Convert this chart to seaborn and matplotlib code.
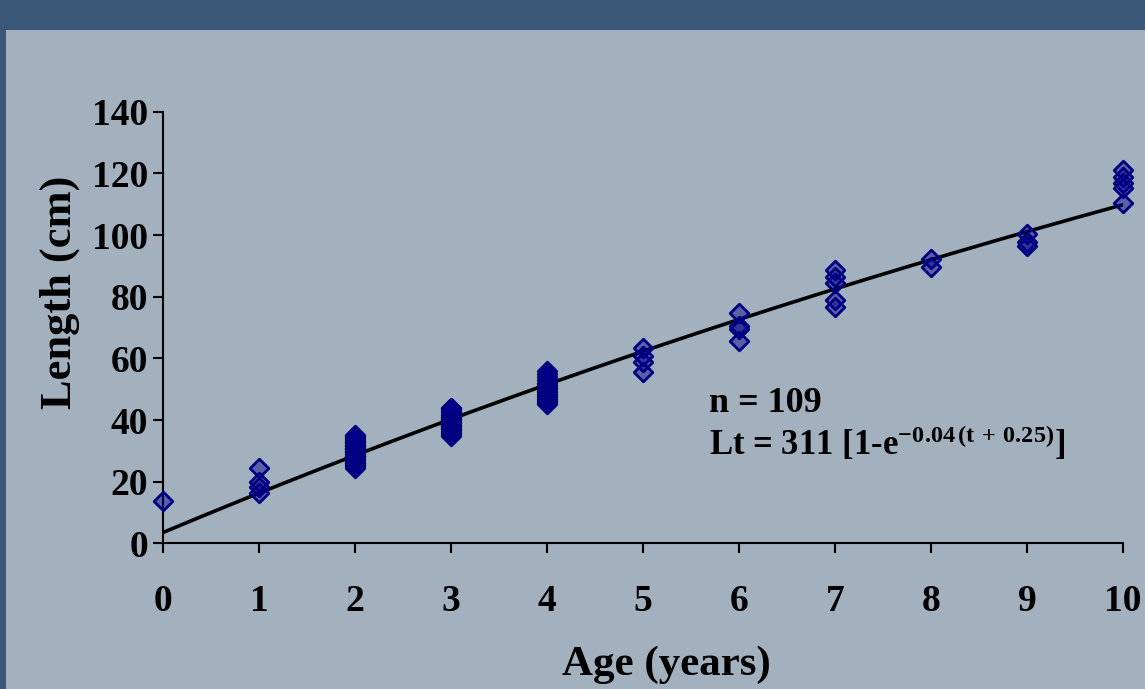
# Length-at-age scatter with von Bertalanffy growth curve
import matplotlib
matplotlib.use('Agg')
import matplotlib.pyplot as plt
from matplotlib.patches import Rectangle
import numpy as np
import pandas as pd
import seaborn as sns

len_age0 = [13.9]
len_age1 = [24.5, 20.0, 18.3, 16.5]
len_age2 = [24.5, 25, 25.5, 26, 26, 26.5, 27, 27, 27.5, 28, 28, 28.5, 28.5, 29, 29,
            29.5, 29.5, 30, 30, 30.5, 30.5, 31, 31, 31.5, 31.5, 32, 32, 32.5, 33, 33,
            33.5, 34, 34.5, 35, 35.2]
len_age3 = [35, 35.5, 36, 36.5, 37, 37, 37.5, 38, 38, 38.5, 38.5, 39, 39, 39.5, 39.5,
            40, 40, 40.5, 40.5, 41, 41, 41.5, 42, 42.5, 43, 43.5, 43.9, 44]
len_age4 = [45.2, 46, 46.5, 47, 47.5, 48, 48.5, 49, 49.5, 50, 50.5, 51, 51.5, 52, 53,
            54, 55, 56]
len_age5 = [63.4, 60.8, 58.9, 55.6]
len_age6 = [74.7, 70.5, 69.5, 65.5]
len_age7 = [88.7, 86.4, 84.5, 79.0, 76.7]
len_age8 = [92.2, 89.6]
len_age9 = [100.2, 97.9, 96.6]
len_age10 = [121.2, 118.9, 117.0, 115.3, 110.4]

age_lists = [len_age0, len_age1, len_age2, len_age3, len_age4, len_age5,
             len_age6, len_age7, len_age8, len_age9, len_age10]

# Growth curve parameters (curve as drawn on the chart)
L_inf = 311
K = 0.0424
t0 = 0.275

x_ticks = list(range(0, 11))
y_ticks = list(range(0, 141, 20))

data = pd.DataFrame({
    'age': [a for a, vals in enumerate(age_lists) for _ in vals],
    'length': [v for vals in age_lists for v in vals],
})

sns.set_style('ticks')
plt.rcParams['font.family'] = ['Liberation Serif', 'DejaVu Serif']
plt.rcParams['font.weight'] = 'bold'
plt.rcParams['text.color'] = 'black'
plt.rcParams['axes.labelcolor'] = 'black'
plt.rcParams['xtick.color'] = 'black'
plt.rcParams['ytick.color'] = 'black'
plt.rcParams['mathtext.fontset'] = 'custom'
plt.rcParams['mathtext.rm'] = 'Liberation Serif:bold'
plt.rcParams['mathtext.bf'] = 'Liberation Serif:bold'
plt.rcParams['mathtext.it'] = 'Liberation Serif:bold'

fig = plt.figure(figsize=(11.45, 6.89), dpi=100, facecolor='#3b5878')
# light slide panel
fig.patches.append(Rectangle((6 / 1145, 0), 1, 1 - 30 / 689, transform=fig.transFigure,
                             facecolor='#a3b0bd', edgecolor='none', zorder=-10))

ax = fig.add_axes([0.1426, 0.2112, 0.8382, 0.6267])
ax.set_facecolor('none')

# fitted growth curve
t = np.linspace(0, 10, 200)
curve = pd.DataFrame({'age': t, 'length': L_inf * (1 - np.exp(-K * (t + t0)))})
sns.lineplot(data=curve, x='age', y='length', color='black', linewidth=2.6, ax=ax, zorder=2)

# observations
sns.scatterplot(data=data, x='age', y='length', marker='D', s=90,
                facecolor=(0.0, 0.0, 0.55, 0.45), edgecolor='#000080',
                linewidth=2.0, ax=ax, zorder=3, clip_on=False)

ax.set_xlim(0, 10)
ax.set_ylim(0, 140)
ax.set_xticks(x_ticks)
ax.set_yticks(y_ticks)
ax.tick_params(axis='both', labelsize=27, width=1.5, length=7)
ax.tick_params(axis='x', pad=22)
ax.tick_params(axis='y', pad=4)
for lab in ax.get_xticklabels() + ax.get_yticklabels():
    lab.set_fontweight('bold')

for side in ['top', 'right']:
    ax.spines[side].set_visible(False)
for side in ['left', 'bottom']:
    ax.spines[side].set_linewidth(1.5)
    ax.spines[side].set_color('black')

ax.set_xlabel('Age (years)', fontsize=31, fontweight='bold')
ax.set_ylabel('Length (cm)', fontsize=32, fontweight='bold')
ax.xaxis.set_label_coords(0.5247, -0.236)
ax.yaxis.set_label_coords(-0.087, 0.582)

ax.text(5.69, 45.5, 'n = 109', fontsize=26, fontweight='bold', ha='left', va='center')
ax.text(5.69, 32.3, r'Lt = 311 [1-e$^{\mathbf{-0.04\,(t\,+\,0.25)}}$]', fontsize=25,
        fontweight='bold', ha='left', va='center')

fig.savefig('out.png', dpi=100, facecolor=fig.get_facecolor())
